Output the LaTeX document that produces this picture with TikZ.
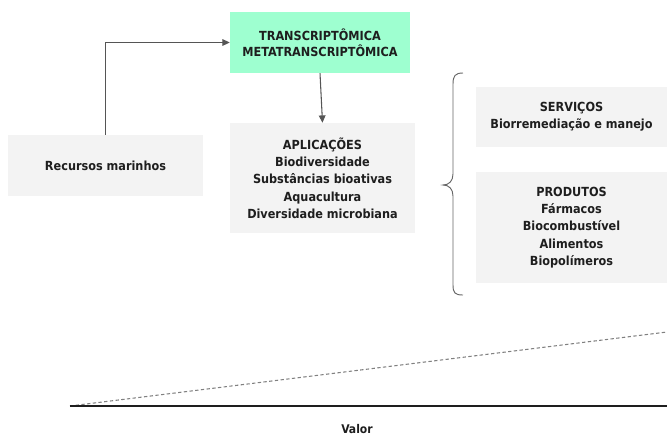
\documentclass[tikz,border=0pt]{standalone}
\usepackage{fontspec}
\setmainfont{DejaVu Sans Condensed}[BoldFont={DejaVu Sans Condensed Bold}]
\usetikzlibrary{arrows.meta}
\definecolor{mint}{HTML}{9EFFD0}
\definecolor{boxgray}{HTML}{F3F3F3}
\definecolor{txt}{HTML}{1E1E1E}
\definecolor{linegray}{HTML}{555555}
\tikzset{
  box/.style={fill=boxgray, draw=none, align=center, text=txt, font=\bfseries\fontsize{9.4}{13}\selectfont, inner sep=0pt},
  greenbox/.style={box, fill=mint, font=\bfseries\fontsize{9.4}{12}\selectfont},
  arr/.style={draw=linegray, line width=0.8pt, -{Triangle[length=5.5pt,width=5pt]}},
  axisline/.style={draw=txt, line width=0.8pt},
  dashline/.style={draw=gray, line width=0.8pt, dash pattern=on 2.5pt off 1.8pt},
  bracestyle/.style={draw=gray!80!black, line width=0.7pt}
}
\begin{document}
\begin{tikzpicture}[x=0.75pt,y=-0.75pt]
\useasboundingbox (0,0) rectangle (667,436);
\node[greenbox, minimum width=135pt, minimum height=45.75pt] (green) at (320,42.5) {TRANSCRIPTÔMICA\\METATRANSCRIPTÔMICA};
\node[box, minimum width=146.25pt, minimum height=45.75pt] (rec) at (105.5,165.5) {Recursos marinhos};
\node[box, minimum width=138.75pt, minimum height=82.5pt] (apl) at (322.5,178) {APLICAÇÕES\\Biodiversidade\\Substâncias bioativas\\Aquacultura\\Diversidade microbiana};
\node[box, minimum width=143.25pt, minimum height=45pt] (serv) at (571.5,117) {SERVIÇOS\\Biorremediação e manejo};
\node[box, minimum width=143.25pt, minimum height=83.25pt] (prod) at (571.5,227.5) {PRODUTOS\\Fármacos\\Biocombustível\\Alimentos\\Biopolímeros};
\draw[arr] (rec.north) |- (green.west);
\draw[arr] (green.south) -- (apl.north);
% brace
\draw[bracestyle] (463,73) .. controls (455,73) and (453,76) .. (453,84)
  -- (453,174) .. controls (453,181) and (449,185) .. (443,185)
  .. controls (449,185) and (453,189) .. (453,196)
  -- (453,285) .. controls (453,293) and (455,295) .. (463,295);
% axis
\coordinate (o) at (70,406);
\coordinate (xend) at (667,406);
\coordinate (dend) at (667,332);
\draw[dashline] (o) -- (dend);
\draw[axisline] (o) -- (xend);
\node[text=txt, font=\bfseries\fontsize{9}{10}\selectfont, inner sep=0pt] (valor) at (357,429) {Valor};
\end{tikzpicture}
\end{document}
